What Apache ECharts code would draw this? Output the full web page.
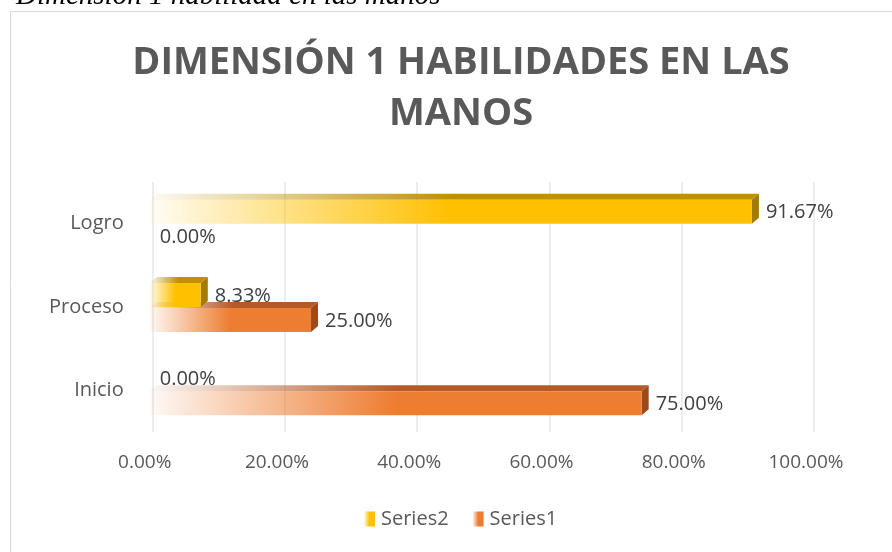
<!DOCTYPE html>
<html>
<head>
<meta charset="utf-8">
<script src="https://cdn.jsdelivr.net/npm/echarts@6/dist/echarts.min.js"></script>
<style>
  html, body { margin: 0; padding: 0; background: #fff; }
  #main { width: 892px; height: 552px; }
</style>
</head>
<body>
<div id="main"></div>
<script>
var categories = ['Inicio', 'Proceso', 'Logro'];
var series1 = [75, 25, 0];
var series2 = [0, 8.33, 91.67];
var xTicks = [0, 20, 40, 60, 80, 100];

var chartDom = document.getElementById('main');
var myChart = echarts.init(chartDom);

var FONT = '"Open Sans", "Noto Sans", sans-serif';

function fade(r, g, b) {
  return new echarts.graphic.LinearGradient(0, 0, 1, 0, [
    { offset: 0, color: 'rgba(' + r + ',' + g + ',' + b + ',0.04)' },
    { offset: 0.04, color: 'rgba(' + r + ',' + g + ',' + b + ',0.12)' },
    { offset: 0.5, color: 'rgba(' + r + ',' + g + ',' + b + ',1)' },
    { offset: 1, color: 'rgba(' + r + ',' + g + ',' + b + ',1)' }
  ]);
}

// 3d-ish bar: value marks the back face, front face is shifted left/down
function makeRender(front, top, side, lower) {
  return function (params, api) {
    var v = api.value(0);
    var cat = api.value(1);
    var c = api.coord([v, cat]);
    var z = api.coord([0, cat]);
    var barH = 24, dx = 7, dy = 6;
    var fyTop = lower ? c[1] + 1 : c[1] - 24;
    var fyBot = fyTop + barH;
    var children = [];
    if (v > 0) {
      var x0 = z[0] - 3;
      var x1 = c[0] - dx;
      children.push({
        type: 'polygon',
        shape: { points: [[x0, fyTop], [x1, fyTop], [c[0], fyTop - dy], [x0 + dx, fyTop - dy]] },
        style: { fill: top }
      });
      children.push({
        type: 'polygon',
        shape: { points: [[x1, fyTop], [c[0], fyTop - dy], [c[0], fyBot - dy], [x1, fyBot]] },
        style: { fill: side }
      });
      children.push({
        type: 'rect',
        shape: { x: x0, y: fyTop, width: x1 - x0, height: barH },
        style: { fill: front }
      });
    }
    children.push({
      type: 'text',
      x: c[0] + 7,
      y: (fyTop + fyBot) / 2 + 1,
      style: {
        text: v.toFixed(2) + '%',
        fill: '#404040',
        font: '20px ' + FONT,
        verticalAlign: 'middle',
        align: 'left'
      }
    });
    return { type: 'group', children: children };
  };
}

var s1Data = series1.map(function (v, i) { return [v, i]; });
var s2Data = series2.map(function (v, i) { return [v, i]; });

var option = {
  backgroundColor: '#fff',
  animation: false,
  title: {
    text: 'DIMENSIÓN 1 HABILIDADES EN LAS\nMANOS',
    left: 456,
    textAlign: 'center',
    top: 33,
    textStyle: {
      fontFamily: FONT,
      fontWeight: 'bold',
      fontSize: 38,
      lineHeight: 51,
      color: '#595959'
    }
  },
  graphic: [
    {
      type: 'rect',
      shape: { x: 10.5, y: 11.5, width: 900, height: 560 },
      style: { fill: 'none', stroke: '#d9d9d9', lineWidth: 1 },
      z: -1
    },
    {
      type: 'text',
      x: 16,
      y: 11,
      style: {
        text: 'Dimensión 1 habilidad en las manos',
        font: 'italic 29px "Liberation Serif", serif',
        fill: '#000',
        verticalAlign: 'bottom'
      }
    }
  ],
  legend: {
    bottom: 18,
    left: 359,
    data: ['Series2', 'Series1'],
    icon: 'rect',
    itemWidth: 11,
    itemHeight: 15,
    itemGap: 24,
    textStyle: { fontFamily: FONT, fontSize: 20, color: '#595959', padding: [0, 0, 0, 1] }
  },
  grid: {
    left: 152.7,
    right: 78,
    top: 182,
    bottom: 120
  },
  xAxis: {
    type: 'value',
    min: xTicks[0],
    max: xTicks[xTicks.length - 1],
    interval: 20,
    axisLine: { show: false },
    axisTick: { show: false },
    splitLine: { lineStyle: { color: '#ededed', width: 2 } },
    axisLabel: {
      margin: 21,
      fontFamily: FONT,
      fontSize: 19,
      color: '#595959',
      padding: [0, 16, 0, 0],
      formatter: function (v) { return v.toFixed(2) + '%'; }
    }
  },
  yAxis: {
    type: 'category',
    data: categories,
    axisLine: { show: false },
    axisTick: { show: false },
    axisLabel: {
      margin: 29,
      fontFamily: FONT,
      fontSize: 20,
      color: '#595959'
    }
  },
  series: [
    {
      name: 'Series1',
      type: 'custom',
      data: s1Data,
      encode: { x: 0, y: 1 },
      itemStyle: { color: fade(237, 125, 49) },
      renderItem: makeRender(fade(237, 125, 49), fade(180, 90, 40), '#9c4a1a', true)
    },
    {
      name: 'Series2',
      type: 'custom',
      data: s2Data,
      encode: { x: 0, y: 1 },
      itemStyle: { color: fade(255, 192, 0) },
      renderItem: makeRender(fade(255, 192, 0), fade(191, 144, 0), '#a37b00', false)
    }
  ]
};

myChart.setOption(option);
</script>
</body>
</html>
